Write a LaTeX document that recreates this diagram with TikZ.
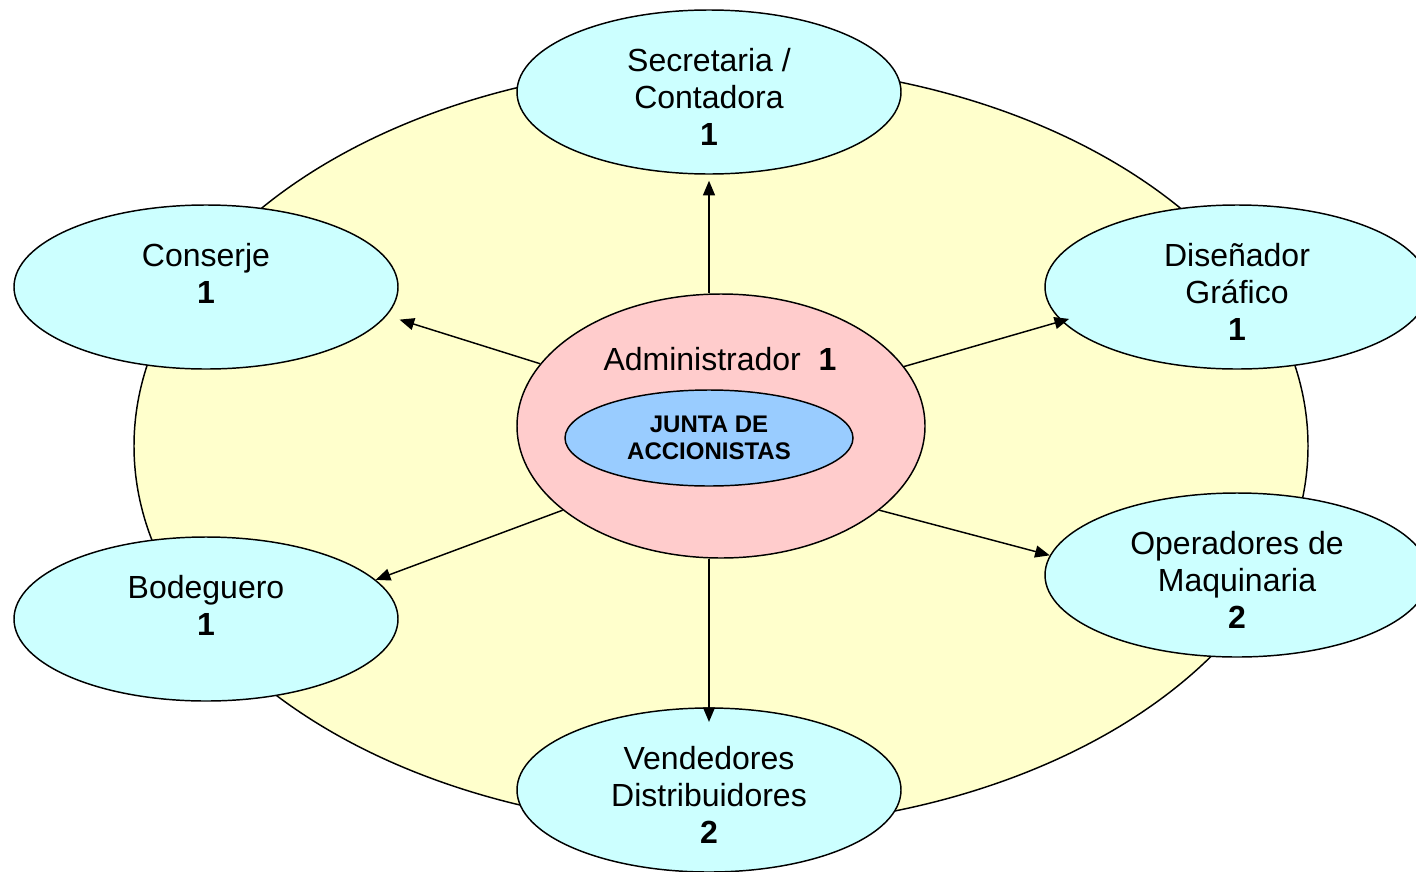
\documentclass[tikz,border=0pt]{standalone}
\usepackage{fontspec}
\setmainfont{Liberation Sans}
\usetikzlibrary{shapes.geometric,arrows.meta}
\definecolor{fieldyellow}{HTML}{FFFFCC}
\definecolor{rolecyan}{HTML}{CCFFFF}
\definecolor{adminpink}{HTML}{FFCCCC}
\definecolor{boardblue}{HTML}{99CCFF}
\newcommand\pxu{0.75pt}
\begin{document}
\begin{tikzpicture}[x=0.75pt,y=-0.75pt,
  oval/.style={ellipse,draw,line width=1.1pt,inner sep=0pt,align=center},
  role/.style={oval,fill=rolecyan,minimum width={384*\pxu},minimum height={164*\pxu}},
  roletext/.style={align=center,inner sep=0pt,font=\fontsize{24}{27.5}\selectfont},
  link/.style={line width=1.1pt,-{Triangle[length=11pt,width=9pt]}}]
\useasboundingbox (0,0) rectangle (1416,871);

% organisation field
\node[oval,fill=fieldyellow,minimum width={1174*\pxu},minimum height={764*\pxu}] (field) at (721,446) {};

% administration core
\node[oval,fill=adminpink,minimum width={408*\pxu},minimum height={264*\pxu}] (adm) at (721,426) {};
\node[roletext] (admlbl) at (720,359) {Administrador\ \ \textbf{1}};
\node[oval,fill=boardblue,minimum width={288*\pxu},minimum height={96*\pxu},
  font=\fontsize{18}{20.5}\selectfont\bfseries] (board) at (709,438) {JUNTA DE\\ACCIONISTAS};

% staff roles
\node[role] (sec) at (709,92) {};
\node[role] (con) at (206,287) {};
\node[role] (dis) at (1237,287) {};
\node[role] (bod) at (206,619) {};
\node[role] (ope) at (1237,575) {};
\node[role] (ven) at (709,790) {};

% role captions (two-line captions keep an empty third line so all start at the same height)
\node[roletext] (sectxt) at ([yshift=-3.75pt]sec.center) {Secretaria /\\Contadora\\\textbf{1}};
\node[roletext] (contxt) at ([yshift=-3.75pt]con.center) {Conserje\\\textbf{1}\\\mbox{}};
\node[roletext] (distxt) at ([yshift=-3.75pt]dis.center) {Diseñador\\Gráfico\\\textbf{1}};
\node[roletext] (bodtxt) at ([yshift=-3.75pt]bod.center) {Bodeguero\\\textbf{1}\\\mbox{}};
\node[roletext] (opetxt) at ([yshift=-3.75pt]ope.center) {Operadores de\\Maquinaria\\\textbf{2}};
\node[roletext] (ventxt) at ([yshift=-3.75pt]ven.center) {Vendedores\\Distribuidores\\\textbf{2}};

% reporting lines
\draw[link,shorten >=4.5pt] (adm.north -| sec.south) -- (sec.south);
\draw[link,shorten >=10pt] (adm.161) -- (con.-9.5);
\draw[link,shorten >=-6pt] (adm.18.5) -- (dis.-169.3);
\draw[link] (adm.208.6) -- (bod.13);
\draw[link] (adm.-28.4) -- (ope.174.3);
\draw[link,shorten >=-11pt] (adm.south -| ven.north) -- (ven.north);
\end{tikzpicture}
\end{document}
